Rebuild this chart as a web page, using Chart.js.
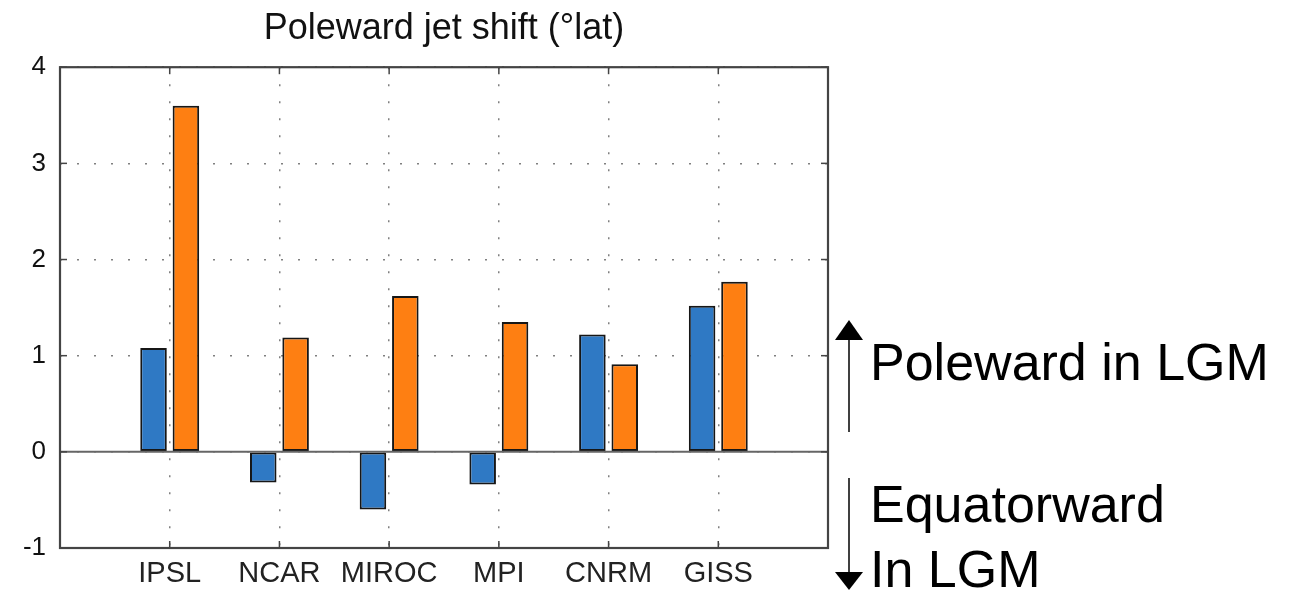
<!DOCTYPE html>
<html>
<head>
<meta charset="utf-8">
<title>Poleward jet shift</title>
<script src="https://cdn.jsdelivr.net/npm/chart.js@4.4.1/dist/chart.umd.min.js"></script>
<style>
  html, body { margin: 0; padding: 0; background: #fff; }
  #wrap { position: relative; width: 1296px; height: 592px; overflow: hidden; }
  #jet-shift { position: absolute; left: 0; top: 0; }
  .arrows { position: absolute; left: 0; top: 0; }
  .note {
    position: absolute; left: 870px;
    font-family: 'Liberation Sans', Arial, sans-serif;
    font-size: 52px; line-height: 52px; color: #000; white-space: nowrap;
  }
</style>
</head>
<body>
<div id="wrap">
  <canvas id="jet-shift" width="1296" height="592"></canvas>
  <svg class="arrows" width="1296" height="592">
    <line x1="849" y1="432" x2="849" y2="338" stroke="#000" stroke-width="1.5"/>
    <polygon points="849,320 835,340 863,340" fill="#000"/>
    <line x1="849" y1="478" x2="849" y2="574" stroke="#000" stroke-width="1.5"/>
    <polygon points="849,590 835,572 863,572" fill="#000"/>
  </svg>
  <div class="note" style="top:336px">Poleward in LGM</div>
  <div class="note" style="top:478px">Equatorward</div>
  <div class="note" style="top:543px">In LGM</div>
</div>
<script>
// Models and their jet shift (degrees latitude), two experiments each
const models = ['IPSL', 'NCAR', 'MIROC', 'MPI', 'CNRM', 'GISS'];
const shiftBlue = [1.08, -0.32, -0.60, -0.34, 1.22, 1.52];
const shiftOrange = [3.60, 1.19, 1.62, 1.35, 0.91, 1.77];
const yTicks = [-1, 0, 1, 2, 3, 4];

const FONT = "'Liberation Sans', Arial, sans-serif";

// box around the axes, inward tick marks and the zero line
const framePlugin = {
  id: 'frame',
  afterDatasetsDraw(chart) {
    const { ctx, chartArea: a, scales: { x, y } } = chart;
    const line = (x1, y1, x2, y2) => {
      ctx.beginPath(); ctx.moveTo(x1, y1); ctx.lineTo(x2, y2); ctx.stroke();
    };
    ctx.save();
    ctx.strokeStyle = '#666';
    ctx.lineWidth = 2;
    const y0 = y.getPixelForValue(0);
    line(a.left, y0, a.right, y0);

    ctx.strokeStyle = '#444';
    ctx.lineWidth = 1.5;
    x.ticks.forEach((t) => {
      const px = x.getPixelForValue(t.value);
      line(px, a.bottom, px, a.bottom - 7);
      line(px, a.top, px, a.top + 7);
    });
    y.ticks.forEach((t) => {
      const py = y.getPixelForValue(t.value);
      line(a.left, py, a.left + 7, py);
      line(a.right, py, a.right - 7, py);
    });
    ctx.lineWidth = 2.2;
    ctx.strokeRect(a.left, a.top, a.width, a.height);
    ctx.restore();
  },
};

const ctx = document.getElementById('jet-shift');
// eslint-disable-next-line no-unused-vars
const chart = new Chart(ctx, {
  type: 'bar',
  data: {
    datasets: [
      {
        data: models.map((m, i) => ({ x: i + 1, y: shiftBlue[i] })),
        backgroundColor: '#2f79c4',
        borderColor: '#161616',
        borderWidth: 2,
        borderSkipped: false,
      },
      {
        data: models.map((m, i) => ({ x: i + 1, y: shiftOrange[i] })),
        backgroundColor: '#fe7f12',
        borderColor: '#161616',
        borderWidth: 2,
        borderSkipped: false,
      },
    ],
  },
  options: {
    responsive: false,
    animation: false,
    categoryPercentage: 0.59,
    barPercentage: 0.82,
    layout: { padding: { left: 0, right: 468, top: 0, bottom: 0 } },
    scales: {
      x: {
        type: 'linear',
        min: 0,
        max: models.length + 1,
        offset: false,
        afterBuildTicks: (s) => { s.ticks = models.map((m, i) => ({ value: i + 1 })); },
        afterFit: (s) => { s.height = 44; },
        grid: { offset: false, drawTicks: false, color: '#808080', lineWidth: 1.5 },
        border: { display: false, dash: [2, 15] },
        ticks: {
          autoSkip: false,
          maxRotation: 0,
          padding: 9,
          color: '#222',
          font: { family: FONT, size: 29 },
          callback: (v) => models[v - 1] || '',
        },
      },
      y: {
        min: yTicks[0],
        max: yTicks[yTicks.length - 1],
        afterBuildTicks: (s) => { s.ticks = yTicks.map((v) => ({ value: v })); },
        afterFit: (s) => { s.width = 60; },
        grid: { drawTicks: false, color: '#808080', lineWidth: 1.5 },
        border: { display: false, dash: [2, 15] },
        ticks: {
          padding: 14,
          color: '#111',
          font: { family: FONT, size: 26 },
        },
      },
    },
    plugins: {
      legend: { display: false },
      tooltip: { enabled: false },
      title: {
        display: true,
        text: 'Poleward jet shift (\u00B0lat)',
        fullSize: false,
        color: '#111',
        font: { family: FONT, size: 36, weight: 'normal' },
        padding: { top: 7, bottom: 17 },
      },
    },
  },
  plugins: [framePlugin],
});
</script>
</body>
</html>
